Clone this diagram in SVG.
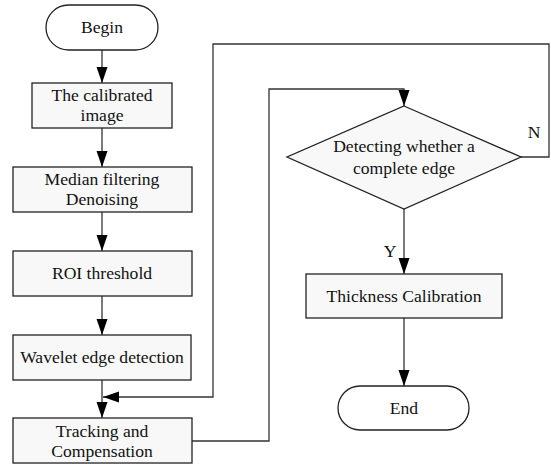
<svg xmlns="http://www.w3.org/2000/svg" width="551" height="464" viewBox="0 0 551 464">
<style>
.box{fill:#f8f8f8;stroke:#222;stroke-width:1.3}
.term{fill:#fff;stroke:#222;stroke-width:1.3}
.ln{fill:none;stroke:#333;stroke-width:1.3}
text{font-family:"Liberation Serif","Times New Roman",serif;font-size:17.6px;fill:#111;text-anchor:middle}
</style>
<defs>
<marker id="ah" markerUnits="userSpaceOnUse" markerWidth="17" markerHeight="12" refX="16" refY="5.5" orient="auto">
<path d="M0,0 L16,5.5 L0,11 z" fill="#000"/>
</marker>
</defs>
<rect x="0" y="0" width="551" height="464" fill="#fff"/>
<g id="connectors">
<line class="ln" x1="102" y1="50" x2="102" y2="83" marker-end="url(#ah)"/>
<line class="ln" x1="102" y1="128" x2="102" y2="167" marker-end="url(#ah)"/>
<line class="ln" x1="102" y1="212" x2="102" y2="251" marker-end="url(#ah)"/>
<line class="ln" x1="102" y1="296" x2="102" y2="335" marker-end="url(#ah)"/>
<line class="ln" x1="102" y1="380" x2="102" y2="418" marker-end="url(#ah)"/>
<polyline class="ln" points="192,441 269,441 269,89 404,89 404,106" marker-end="url(#ah)"/>
<polyline class="ln" points="521,157 549,157 549,44 213,44 213,397 103,397" marker-end="url(#ah)"/>
<line class="ln" x1="404" y1="209" x2="404" y2="274" marker-end="url(#ah)"/>
<line class="ln" x1="404" y1="318" x2="404" y2="386" marker-end="url(#ah)"/>
<text x="534" y="138">N</text>
<text x="390" y="257">Y</text>
</g>
<g id="begin">
<rect class="term" x="46" y="5" width="112" height="45" rx="22.5" ry="22.5"/>
<text x="102" y="33">Begin</text>
</g>
<g id="calibrated">
<rect class="box" x="32" y="83" width="140" height="45"/>
<text x="102" y="101">The calibrated</text>
<text x="102" y="121">image</text>
</g>
<g id="median">
<rect class="box" x="13" y="167" width="179" height="45"/>
<text x="102" y="185">Median filtering</text>
<text x="102" y="205">Denoising</text>
</g>
<g id="roi">
<rect class="box" x="13" y="251" width="179" height="45"/>
<text x="102" y="279">ROI threshold</text>
</g>
<g id="wavelet">
<rect class="box" x="13" y="335" width="178" height="45"/>
<text x="102" y="363">Wavelet edge detection</text>
</g>
<g id="tracking">
<rect class="box" x="13" y="418" width="179" height="45"/>
<text x="102" y="437">Tracking and</text>
<text x="102" y="457">Compensation</text>
</g>
<g id="detect">
<polygon class="box" points="404,106 521,157 404,209 287,157"/>
<text x="404" y="152">Detecting whether a</text>
<text x="404" y="174">complete edge</text>
</g>
<g id="thickness">
<rect class="box" x="306" y="274" width="196" height="44"/>
<text x="404" y="302">Thickness Calibration</text>
</g>
<g id="end">
<rect class="term" x="338" y="386" width="131" height="44" rx="22" ry="22"/>
<text x="404" y="414">End</text>
</g>
</svg>
